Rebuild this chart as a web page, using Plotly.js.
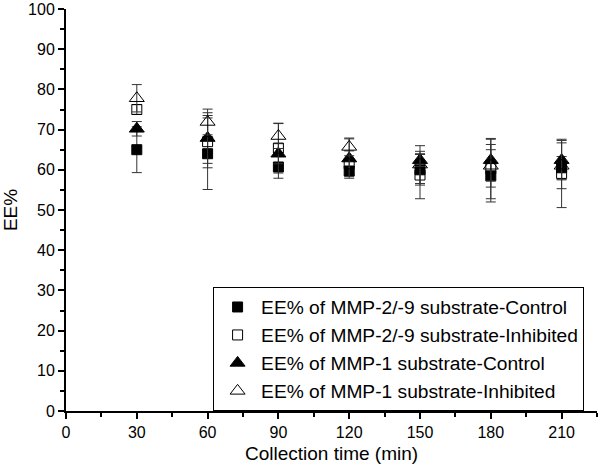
<!DOCTYPE html>
<html><head><meta charset="utf-8">
<script src="https://cdn.plot.ly/plotly-3.0.1.min.js"></script>
<style>body{margin:0;background:#fff}#c{width:601px;height:469px}</style>
</head><body><div id="c"></div>
<script>
const times = [30, 60, 90, 120, 150, 180, 210];
const names = ["EE% of MMP-2/-9 substrate-Control","EE% of MMP-2/-9 substrate-Inhibited","EE% of MMP-1 substrate-Control","EE% of MMP-1 substrate-Inhibited"];
const mmp29Control = [65, 64, 60.7, 59.7, 60, 58.5, 60.5];
const mmp29ControlErr = [5.7, 8.9, 2.8, 1.0, 3.8, 6.5, 2.8];
const mmp29Inhib = [75, 67, 65.4, 61.5, 58.7, 60.3, 59.1];
const mmp29InhibErr = [1.2, 6.5, 6.2, 3.2, 5.9, 7.5, 8.5];
const mmp1Control = [70.2, 67.9, 64, 62.8, 62.4, 62.4, 62.4];
const mmp1ControlErr = [1.8, 6.3, 2.5, 4.9, 1.6, 5.2, 4.9];
const mmp1Inhib = [77.8, 71.9, 68.4, 65.7, 61.3, 61, 61];
const mmp1InhibErr = [3.4, 3.2, 3.1, 2.2, 4.7, 5.3, 5.7];
const xTicks = [0, 30, 60, 90, 120, 150, 180, 210];
const yTicks = [0, 10, 20, 30, 40, 50, 60, 70, 80, 90, 100];

const vals = [mmp29Control, mmp29Inhib, mmp1Control, mmp1Inhib];
const errs = [mmp29ControlErr, mmp29InhibErr, mmp1ControlErr, mmp1InhibErr];
const syms = ["square", "square-open", "triangle-up", "triangle-up-open"];
const sizes = [10, 10, 13, 13];
const traces = vals.map((v, i) => ({
  x: times, y: v, name: names[i], type: "scatter", mode: "markers",
  legendrank: i + 1,
  marker: {symbol: syms[i], size: sizes[i], color: "#000", line: {width: 1, color: "#000"}},
  error_y: {type: "data", array: errs[i], visible: true, color: "#333", thickness: 1, width: 5}
}));
const order = [0, 2, 1, 3];
const data = order.map(i => traces[i]);

const fam = "Liberation Sans, Arial, sans-serif";
const layout = {
  width: 601, height: 469,
  margin: {l: 66, r: 4, t: 9, b: 58},
  paper_bgcolor: "#fff", plot_bgcolor: "#fff",
  font: {family: fam, size: 16, color: "#000"},
  showlegend: true,
  legend: {x: 0.277, y: 0.0, xanchor: "left", yanchor: "bottom",
    bordercolor: "#000", borderwidth: 1, bgcolor: "#fff",
    font: {family: fam, size: 19.2, color: "#000"},
    traceorder: "normal", itemwidth: 37},
  xaxis: {range: [0, 225], tickvals: xTicks, tickfont: {size: 16},
    ticks: "outside", ticklen: 6, tickwidth: 2, tickcolor: "#000",
    showline: true, linewidth: 2, linecolor: "#000", showgrid: false, zeroline: false,
    minor: {ticks: "outside", ticklen: 4, tickwidth: 2, tickcolor: "#000", dtick: 15, tick0: 0, showgrid: false},
    title: {text: "Collection time (min)", font: {size: 19}, standoff: 6}},
  yaxis: {range: [0, 100], tickvals: yTicks, tickfont: {size: 16}, ticklabeloverflow: "allow",
    ticks: "outside", ticklen: 6, tickwidth: 2, tickcolor: "#000",
    showline: true, linewidth: 2, linecolor: "#000", showgrid: false, zeroline: false,
    minor: {ticks: "outside", ticklen: 4, tickwidth: 2, tickcolor: "#000", dtick: 5, tick0: 0, showgrid: false},
    title: {text: "EE%", font: {size: 19}, standoff: 9}}
};
Plotly.newPlot("c", data, layout, {displayModeBar: false, staticPlot: true});
</script></body></html>
